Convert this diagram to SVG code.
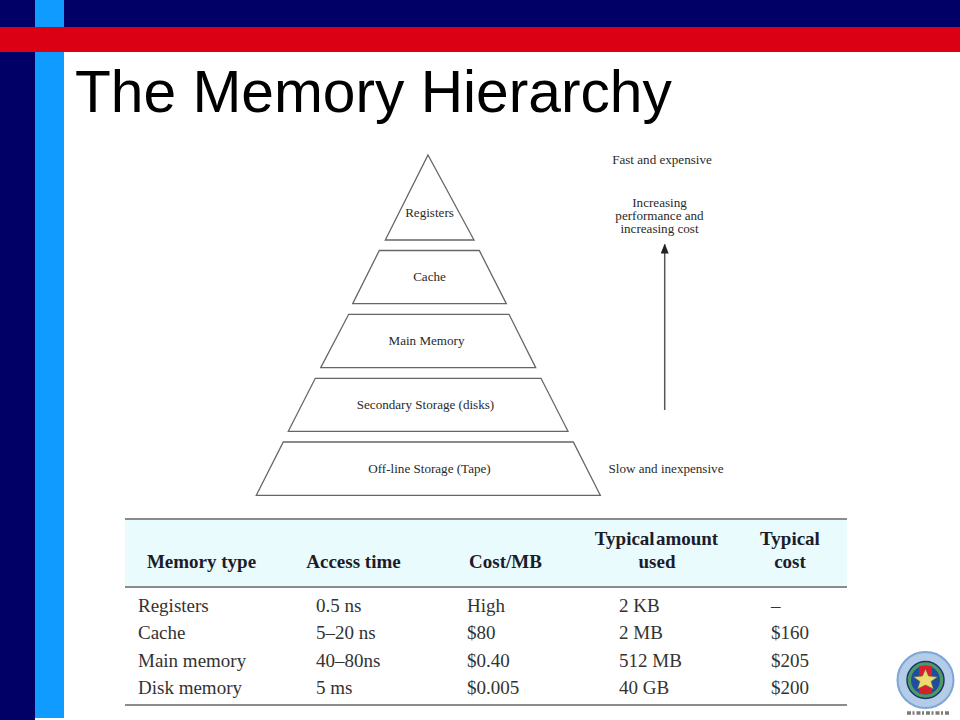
<svg xmlns="http://www.w3.org/2000/svg" width="960" height="720" viewBox="0 0 960 720">
<style>
.s{font-family:"Liberation Serif",serif;font-size:13.1px;fill:#2a2a2a;text-anchor:middle}
.lvl{fill:#fff;stroke:#666;stroke-width:1.3}
.h{font-family:"Liberation Serif",serif;font-size:19px;font-weight:bold;fill:#1c1c2a;text-anchor:middle}
.c{font-family:"Liberation Serif",serif;font-size:19px;fill:#333}
.r{stroke:#666;stroke-width:1.4}
</style>
<defs><marker id="ah" markerUnits="userSpaceOnUse" markerWidth="9" markerHeight="11" refX="9.5" refY="4" orient="auto"><path d="M0 0L10 4L0 8Z" fill="#222"/></marker></defs>
<rect width="960" height="720" fill="#fff"/>
<g id="frame">
<rect x="0" y="0" width="35" height="720" fill="#000066"/>
<rect x="0" y="0" width="960" height="27" fill="#000066"/>
<rect x="35" y="0" width="29" height="718" fill="#0f9bff"/>
<rect x="0" y="27" width="960" height="25" fill="#dc0014"/>
</g>
<text id="title" x="75" y="112" font-family="'Liberation Sans',sans-serif" font-size="58.7" fill="#000">The Memory Hierarchy</text>
<g id="registers"><polygon class="lvl" points="428,155 474,240 385.3,240"/><text class="s" x="429.5" y="216.7">Registers</text></g>
<g id="cache"><polygon class="lvl" points="379.3,250.5 479.3,250.5 506.3,303.700 352.7,303.700"/><text class="s" x="429.5" y="280.7">Cache</text></g>
<g id="main-memory"><polygon class="lvl" points="348.7,314.3 509,314.3 535.7,367.700 320.7,367.700"/><text class="s" x="426.5" y="344.7">Main Memory</text></g>
<g id="secondary-storage"><polygon class="lvl" points="315.3,378.3 541,378.3 568,431.3 288.3,431.3"/><text class="s" x="425.5" y="408.7">Secondary Storage (disks)</text></g>
<g id="offline-storage"><polygon class="lvl" points="283.3,442 573.3,442 600.3,495.3 256.3,495.3"/><text class="s" x="429.5" y="472.7">Off-line Storage (Tape)</text></g>
<g id="annotations">
<text class="s" x="662" y="163.7">Fast and expensive</text>
<text class="s"><tspan x="659.5" y="206.7">Increasing</tspan><tspan x="659.5" y="219.7">performance and</tspan><tspan x="659.5" y="232.7">increasing cost</tspan></text>
<text class="s" x="666" y="472.7">Slow and inexpensive</text>
</g>
<g id="connectors"><line x1="664.7" y1="410" x2="664.7" y2="244" stroke="#555" stroke-width="1.5" marker-end="url(#ah)"/></g>
<g id="table">
<rect x="125" y="519" width="722" height="68" fill="#eafbfd"/>
<line class="r" x1="125" x2="847" y1="519" y2="519"/>
<line class="r" x1="125" x2="847" y1="587" y2="587" stroke-width="2"/>
<line class="r" x1="125" x2="847" y1="705" y2="705"/>
<text class="h" x="201.5" y="568">Memory type</text>
<text class="h" x="353.5" y="568">Access time</text>
<text class="h" x="505.5" y="568">Cost/MB</text>
<text class="h" x="656.5" y="545" word-spacing="-3.5">Typical amount</text>
<text class="h" x="657" y="568">used</text>
<text class="h" x="790" y="545">Typical</text>
<text class="h" x="790" y="568">cost</text>
<text class="c" x="138" y="612">Registers</text><text class="c" x="316" y="612">0.5 ns</text><text class="c" x="467" y="612">High</text><text class="c" x="619" y="612">2 KB</text><text class="c" x="771" y="612">–</text>
<text class="c" x="138" y="639">Cache</text><text class="c" x="316" y="639">5–20 ns</text><text class="c" x="467" y="639">$80</text><text class="c" x="619" y="639">2 MB</text><text class="c" x="771" y="639">$160</text>
<text class="c" x="138" y="667">Main memory</text><text class="c" x="316" y="667">40–80ns</text><text class="c" x="467" y="667">$0.40</text><text class="c" x="619" y="667">512 MB</text><text class="c" x="771" y="667">$205</text>
<text class="c" x="138" y="694">Disk memory</text><text class="c" x="316" y="694">5 ms</text><text class="c" x="467" y="694">$0.005</text><text class="c" x="619" y="694">40 GB</text><text class="c" x="771" y="694">$200</text>
</g>
<g id="logo">
<circle cx="925.5" cy="680" r="28" fill="#b4cce8" stroke="#7ea6d6" stroke-width="2"/>
<circle cx="925.5" cy="680" r="18.5" fill="#4f9a62" stroke="#1c3470" stroke-width="1.5"/>
<circle cx="925.5" cy="680" r="14.5" fill="#1f4ea0"/>
<path d="M919 666h13v28h-13z" fill="#d8202a"/>
<path d="M925.5 669l3 7 9 1-6.500 4.500 2.500 7.500-8-4-8 4 2.500-7.500-6.500-4.500 9-1z" fill="#ecdc70" stroke="#6a6a40" stroke-width=".6"/>
<path d="M907 713h43" stroke="#444" stroke-width="3.500" stroke-dasharray="4 1.500 2 2" opacity=".7"/>
</g>
</svg>
